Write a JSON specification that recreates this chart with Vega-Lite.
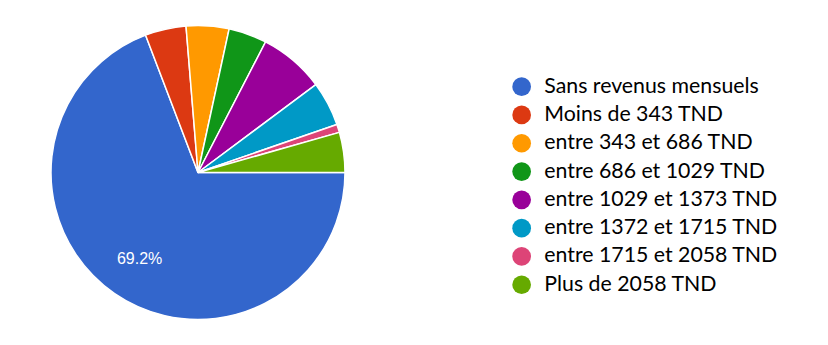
{
  "$schema": "https://vega.github.io/schema/vega-lite/v6.json",
  "width": 396,
  "height": 345,
  "autosize": {"type": "none"},
  "padding": {"left": 0, "top": 0, "right": 432, "bottom": 0},
  "background": "white",
  "config": {"view": {"stroke": null}},
  "data": {
    "values": [
      {"idx": 1, "cat": "Sans revenus mensuels", "share": 0.692},
      {"idx": 2, "cat": "Moins de 343 TND", "share": 0.045},
      {"idx": 3, "cat": "entre 343 et 686 TND", "share": 0.047},
      {"idx": 4, "cat": "entre 686 et 1029 TND", "share": 0.042},
      {"idx": 5, "cat": "entre 1029 et 1373 TND", "share": 0.072},
      {"idx": 6, "cat": "entre 1372 et 1715 TND", "share": 0.049},
      {"idx": 7, "cat": "entre 1715 et 2058 TND", "share": 0.009},
      {"idx": 8, "cat": "Plus de 2058 TND", "share": 0.044}
    ]
  },
  "encoding": {
    "theta": {"field": "share", "type": "quantitative", "stack": true, "scale": {"range": [1.5707963, 7.8539816]}},
    "order": {"field": "idx", "type": "quantitative"},
    "color": {
      "field": "cat",
      "type": "nominal",
      "sort": null,
      "scale": {
        "domain": ["Sans revenus mensuels", "Moins de 343 TND", "entre 343 et 686 TND", "entre 686 et 1029 TND", "entre 1029 et 1373 TND", "entre 1372 et 1715 TND", "entre 1715 et 2058 TND", "Plus de 2058 TND"],
        "range": ["#3366cc", "#dc3912", "#ff9900", "#109618", "#990099", "#0099c6", "#dd4477", "#66aa00"]
      },
      "legend": {
        "title": null,
        "orient": "none",
        "legendX": 511,
        "legendY": 76,
        "symbolType": "circle",
        "symbolSize": 350,
        "symbolStrokeWidth": 0,
        "symbolOpacity": 1,
        "labelFont": "Lato",
        "labelFontSize": 21.3,
        "labelColor": "#000000",
        "labelOffset": 12,
        "labelLimit": 400,
        "rowPadding": 6.3
      }
    }
  },
  "layer": [
    {
      "mark": {"type": "arc", "outerRadius": 147, "stroke": "white", "strokeWidth": 1.5}
    },
    {
      "mark": {"type": "text", "radius": 103, "font": "Liberation Sans", "fontSize": 16, "dy": 2},
      "encoding": {
        "color": {"value": "white"},
        "text": {"condition": {"test": "datum.share > 0.5", "field": "share", "format": ".1%"}, "value": ""}
      }
    }
  ]
}
